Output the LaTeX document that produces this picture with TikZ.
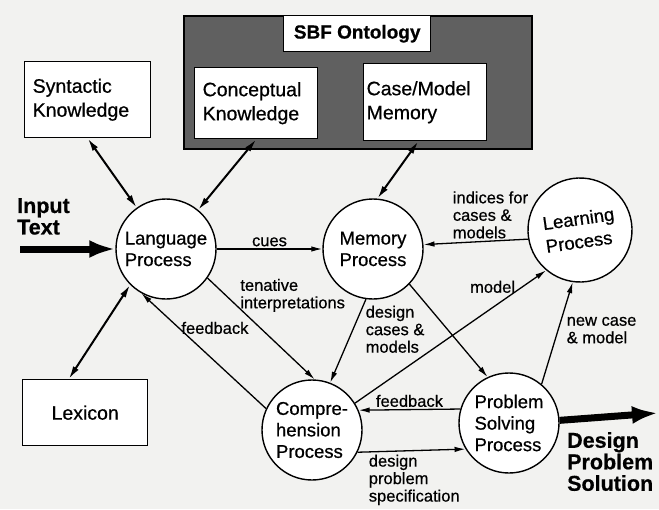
\documentclass[tikz,border=0pt]{standalone}
\usepackage{fontspec}
\setmainfont{Liberation Sans}[FakeBold=0.6]
\usetikzlibrary{arrows.meta,positioning,calc}
\definecolor{page}{RGB}{242,242,240}
\definecolor{onto}{RGB}{96,96,96}
\tikzstyle{a}=[anchor=north west]
\tikzstyle{box}=[a,draw,rectangle,fill=white,line width=1.4pt,align=left,inner ysep=0pt,inner xsep=8pt,font=\fontsize{19.5}{24}\selectfont]
\tikzstyle{proc}=[draw,circle,fill=white,line width=1.4pt,minimum size=100pt,inner sep=0pt,align=left,font=\fontsize{18.5}{21.5}\selectfont]
\tikzstyle{arrow}=[draw,line width=1.3pt,-{Latex[length=11pt,width=5.5pt]}]
\tikzstyle{dbl}=[draw,line width=2pt,{Latex[length=13pt,width=6.5pt]}-{Latex[length=13pt,width=6.5pt]}]
\tikzstyle{big}=[draw,line width=7pt,-{Latex[length=26pt,width=18pt]}]
\tikzstyle{lbl}=[font=\fontsize{16.5}{17.5}\selectfont,align=left,inner sep=2pt]
\tikzstyle{io}=[a,font=\bfseries\fontsize{21.5}{21.5}\selectfont,align=left,inner sep=0pt]

\begin{document}
\begin{tikzpicture}[x=1pt,y=-1pt]
  \fill[page] (0,0) rectangle (659,509);
  \useasboundingbox (0,0) rectangle (659,509);

  % SBF ontology
  \node [a,draw,fill=onto,line width=1.8pt,minimum width=348pt,minimum height=133pt] (ont) at (183,15) {};
  \node [box,inner sep=0pt,align=center,minimum width=147pt,minimum height=36pt,font=\bfseries\fontsize{19}{22}\selectfont] (title) at (283,15) {SBF Ontology};
  \node [box,text width=107pt,minimum height=71pt] (conc) at (194,67) {Conceptual\\Knowledge};
  \node [box,inner xsep=3pt,text width=117pt,minimum height=77pt] (case) at (363,63) {Case/Model\\Memory};

  % Other knowledge
  \node [box,text width=110pt,minimum height=76pt] (syn) at (24,61) {Syntactic\\Knowledge};
  \node [box,inner xsep=0pt,align=center,minimum width=125pt,minimum height=66pt] (lex) at (22,379) {Lexicon};

  % Processes
  \node [proc] (lang) at (166,249) {Language\\Process};
  \node [proc] (mem) at (373,249) {Memory\\Process};
  \node [proc,rotate=8,minimum size=104pt,font=\fontsize{18.5}{23}\selectfont] (learn) at (580,230) {Learning\\Process};
  \node [proc] (comp) at (312,430) {Compre-\\hension\\Process};
  \node [proc] (ps) at (509,423) {Problem\\Solving\\Process};

  % Input and output
  \node [io] (intext) at (17,198) {Input\\Text};
  \coordinate (in) at (20,249);
  \node [io] (dps) at (567,432) {Design\\Problem\\Solution};
  \coordinate (out) at (658,413);

  \draw[big] (in) -- (lang);
  \draw[big] (ps.3) -- (out);

  % Knowledge access
  \draw[dbl] (syn.south) -- (lang);
  \draw[dbl] (conc.south) -- (lang);
  \draw[dbl] (case.260) -- (mem.85);
  \draw[dbl] (lex.116) -- (lang.225);

  % Flows between processes
  \draw[arrow] (lang) -- node[lbl,above] {cues} (mem);
  \draw[arrow] (learn.182) -- node[lbl,pos=0.36,above] {indices for\\cases \&\\models} (mem.5);
  \draw[arrow] (lang.325) -- node[lbl,pos=0.17,right=12pt] {tenative\\interpretations} (comp.87);
  \draw[arrow] (comp.155) -- node[lbl,pos=0.7,right] {feedback} (lang.241);
  \draw[arrow] (mem.262) -- node[lbl,pos=0.36,right=10pt] {design\\cases \&\\models} (comp.69);
  \draw[arrow] (mem.316) -- (ps.115);
  \draw[arrow] (comp.32) -- node[lbl,pos=0.72,above=12pt] {model} (learn.222);
  \draw[arrow] (ps.164) -- node[lbl,above] {feedback} (comp.23);
  \draw[arrow] (comp.334) -- node[lbl,pos=0.08,below right] {design\\problem\\specification} (ps.211);
  \draw[arrow] (ps.50) -- node[lbl,pos=0.53,right=6pt] {new case\\\& model} (learn.254);
\end{tikzpicture}
\end{document}
